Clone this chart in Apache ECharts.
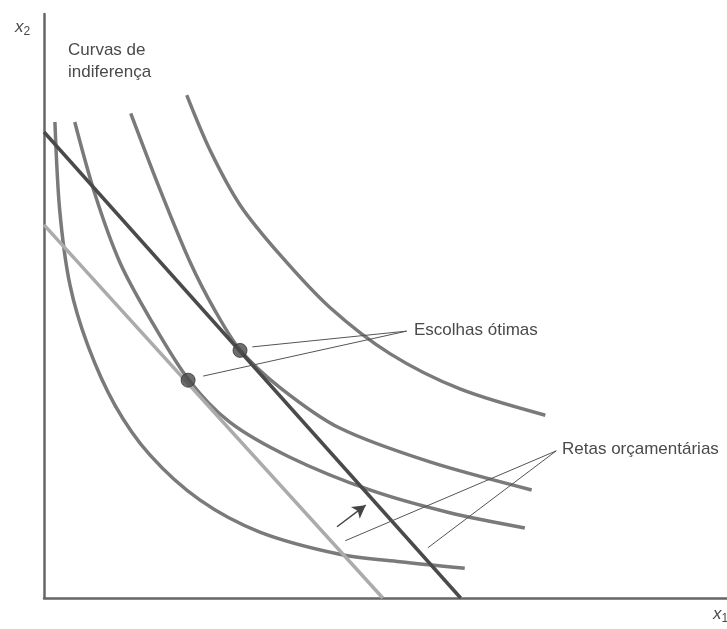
<!DOCTYPE html>
<html>
<head>
<meta charset="utf-8">
<script src="https://cdn.jsdelivr.net/npm/echarts/dist/echarts.min.js"></script>
<style>
  html, body { margin: 0; padding: 0; background: #fff; }
  #main { width: 727px; height: 629px; }
</style>
</head>
<body>
<div id="main"></div>
<script>
    // curvas de indiferença (unidades arbitrárias 0-100)
    var curve1 = [[1.6,81.5],[2.3,66.4],[3.8,53.6],[6.4,43.3],[10.4,33.0],[15.5,24.5],[22.8,16.8],[31.6,11.3],[43.3,7.5],[52.1,6.2],[61.6,5.1]]
    var curve2 = [[4.5,81.5],[7.5,69.0],[11.1,57.5],[15.5,47.9],[21.1,37.5],[27.2,30.1],[36.0,24.1],[47.7,18.5],[59.4,14.6],[70.4,12.0]]
    var curve3 = [[12.7,83.0],[17.0,69.9],[21.4,57.5],[25.0,49.3],[28.7,42.5],[34.6,36.0],[43.3,29.1],[56.5,23.3],[71.4,18.5]]
    var curve4 = [[20.9,86.1],[24.3,76.7],[28.7,67.3],[34.6,58.7],[41.9,49.7],[50.7,41.8],[60.9,35.8],[73.4,31.3]]

    // retas orçamentárias
    var budgetOld = [[0,63.9],[49.6,0]]
    var budgetNew = [[0,79.8],[61,0]]

    // escolhas ótimas
    var optima = [[21.1,37.3],[28.7,42.4]]

    // linhas de chamada
    var escolhasFrom = [53.1,45.7]
    var escolhasTo = [[30.5,43.0],[23.3,38.0]]
    var retasFrom = [75.0,25.2]
    var retasTo = [[44.1,9.8],[56.2,8.6]]
    var arrowLine = [[42.9,12.2],[47.1,15.9]]

    var curveColor = '#7a7a7a'
    var textColor = '#4a4a4a'
    var font = '"Liberation Sans", Arial, sans-serif'

    function curve(data) {
        return {
            type: 'line',
            data: data,
            smooth: 0.3,
            symbol: 'none',
            silent: true,
            lineStyle: { color: curveColor, width: 3.5 }
        }
    }

    var leaders = []
    escolhasTo.forEach(function (p) { leaders.push([{ coord: escolhasFrom }, { coord: p }]) })
    retasTo.forEach(function (p) { leaders.push([{ coord: retasFrom }, { coord: p }]) })

    var chart = echarts.init(document.getElementById('main'))
    var option = {
        animation: false,
        backgroundColor: '#fff',
        grid: { left: 44, right: 0, top: 14, bottom: 31 },
        xAxis: {
            type: 'value', min: 0, max: 100,
            axisLine: { show: true, onZero: false, lineStyle: { color: '#666', width: 2.5 } },
            axisTick: { show: false }, axisLabel: { show: false }, splitLine: { show: false }
        },
        yAxis: {
            type: 'value', min: 0, max: 100,
            axisLine: { show: true, onZero: false, lineStyle: { color: '#666', width: 2.5 } },
            axisTick: { show: false }, axisLabel: { show: false }, splitLine: { show: false }
        },
        series: [
            curve(curve1),
            curve(curve2),
            curve(curve3),
            curve(curve4),
            {
                type: 'line', data: budgetOld, symbol: 'none', silent: true,
                lineStyle: { color: '#ababab', width: 3.5 }
            },
            {
                type: 'line', data: budgetNew, symbol: 'none', silent: true,
                lineStyle: { color: '#4a4a4a', width: 3.5 },
                markLine: {
                    silent: true, symbol: ['none', 'none'], label: { show: false },
                    lineStyle: { color: '#555', width: 1, type: 'solid' },
                    data: leaders
                }
            },
            {
                type: 'line', data: arrowLine, symbol: 'none', silent: true,
                lineStyle: { width: 0 },
                markLine: {
                    silent: true, symbol: ['none', 'arrow'], symbolSize: [11, 13],
                    label: { show: false },
                    lineStyle: { color: '#444', width: 1.5, type: 'solid' },
                    data: [[{ coord: arrowLine[0] }, { coord: arrowLine[1] }]]
                }
            },
            {
                type: 'scatter', data: optima, symbolSize: 14, silent: true, z: 5,
                itemStyle: { color: '#4a4a4a', borderColor: '#333', borderWidth: 1 }
            }
        ],
        graphic: [
            { type: 'text', left: 68, top: 42, style: { text: 'Curvas de', fill: textColor, font: '17px ' + font } },
            { type: 'text', left: 68, top: 64, style: { text: 'indiferença', fill: textColor, font: '17px ' + font } },
            { type: 'text', left: 414, top: 322, style: { text: 'Escolhas ótimas', fill: textColor, font: '17px ' + font } },
            { type: 'text', left: 562, top: 441, style: { text: 'Retas orçamentárias', fill: textColor, font: '17px ' + font } },
            {
                type: 'text', left: 15, top: 19,
                style: {
                    text: '{i|x}{s|2}', fill: textColor,
                    rich: {
                        i: { font: 'italic 17px ' + font, fill: textColor },
                        s: { font: '12px ' + font, fill: textColor, padding: [8, 0, 0, 0] }
                    }
                }
            },
            {
                type: 'text', left: 713, top: 606,
                style: {
                    text: '{i|x}{s|1}', fill: textColor,
                    rich: {
                        i: { font: 'italic 17px ' + font, fill: textColor },
                        s: { font: '12px ' + font, fill: textColor, padding: [8, 0, 0, 0] }
                    }
                }
            }
        ]
    }
    chart.setOption(option)
</script>
</body>
</html>
